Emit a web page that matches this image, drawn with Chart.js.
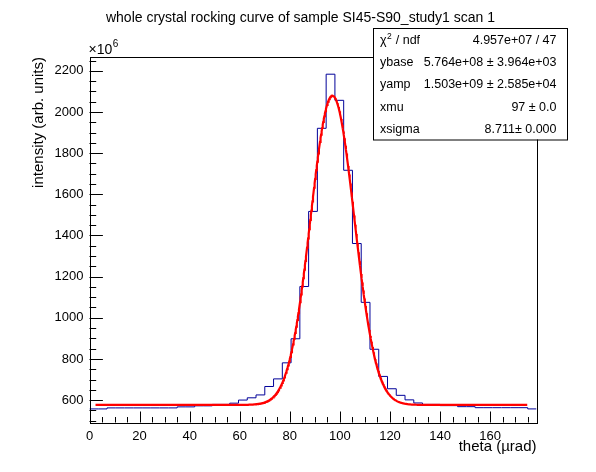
<!DOCTYPE html>
<html><head><meta charset="utf-8">
<script src="https://cdn.jsdelivr.net/npm/chart.js@4/dist/chart.umd.min.js"></script>
<style>html,body{margin:0;padding:0;background:#fff;overflow:hidden}canvas{display:block}</style>
</head><body>
<canvas id="c" width="596" height="472"></canvas>
<script>
// ---- data ----
const chartTitle = 'whole crystal rocking curve of sample SI45-S90_study1 scan 1';
const xTitle = 'theta (\u00b5rad)';
const yTitle = 'intensity (arb. units)';
const yExponent = '6';
// histogram bins (low edges, theta in urad) and contents (x 10^6)
const binLowEdges = [0,3.5,7,10.5,14,17.5,21,24.5,28,31.5,35,38.5,42,45.5,49,52.5,56,59.5,63,66.5,70,73.5,77,80.5,84,87.5,91,94.5,98,101.5,105,108.5,112,115.5,119,122.5,126,129.5,133,136.5,140,143.5,147,150.5,154,157.5,161,164.5,168,171.5,175];
const binUpperEdge = 178.5;
const counts = [557,557,562,562,562,562,562,562,562,562,567,567,572,572,579,579,585,600,611,625,666,703,781,898,1152,1517,1921,2184,2057,1717,1361,1075,847,715,655,623,601,586,579,579,573,573,568,568,563,563,563,563,563,563,557];
// fit parameters shown in the stat box (intensity in units of 10^6)
const fitParamNames = ['ybase','yamp','xmu','xsigma'];
const fitParamValues = [576.4, 1503, 97, 8.711];
const fitRange = [2.4, 174.8];
// stat box
const statLabels = ['chi2ndf','ybase','yamp','xmu','xsigma'];
const statValues = ['4.957e+07 / 47','5.764e+08 \u00b1 3.964e+03','1.503e+09 \u00b1 2.585e+04','97 \u00b1 0.0','8.711\u00b1 0.000'];
// axes
const xRange = [0, 178.5];
const yRange = [491, 2270];
const xTickValues = [0,20,40,60,80,100,120,140,160];
const yTickValues = [600,800,1000,1200,1400,1600,1800,2000,2200];
const xMajorStep = 20, xMinorStep = 5;
const yMajorStep = 200, yMinorStep = 50;

// ---- build datasets ----
const histPoints = binLowEdges.map((x, i) => ({x: x, y: counts[i]}));
histPoints.push({x: binUpperEdge, y: counts[counts.length - 1]});
const P = Object.fromEntries(fitParamNames.map((n, i) => [n, fitParamValues[i]]));
const fitPoints = [];
const NF = 800;
for (let k = 0; k <= NF; k++) {
  const x = fitRange[0] + (fitRange[1] - fitRange[0]) * k / NF;
  fitPoints.push({x: x, y: P.ybase + P.yamp * Math.exp(-0.5 * Math.pow((x - P.xmu) / P.xsigma, 2))});
}

const FONT = "'Liberation Sans', Arial, Helvetica, sans-serif";

const rootPlugin = {
  id: 'rootStyle',
  afterDraw(chart) {
    const ctx = chart.ctx;
    const a = chart.chartArea;
    const xs = chart.scales.x, ys = chart.scales.y;
    ctx.save();
    ctx.strokeStyle = '#000';
    ctx.lineWidth = 1;
    // frame
    ctx.strokeRect(Math.round(a.left) + 0.5, Math.round(a.top) + 0.5, Math.round(a.right) - Math.round(a.left), Math.round(a.bottom) - Math.round(a.top));
    ctx.beginPath();
    // y ticks (inward)
    const yStart = Math.ceil(yRange[0] / yMinorStep) * yMinorStep;
    for (let v = yStart; v <= yRange[1]; v += yMinorStep) {
      const py = Math.round(ys.getPixelForValue(v)) + 0.5;
      const len = (v % yMajorStep === 0) ? 13.4 : 6.7;
      ctx.moveTo(a.left, py); ctx.lineTo(a.left + len, py);
    }
    // x ticks (inward)
    for (let v = Math.ceil(xRange[0] / xMinorStep) * xMinorStep; v <= xRange[1]; v += xMinorStep) {
      const px = Math.round(xs.getPixelForValue(v)) + 0.5;
      const len = (v % xMajorStep === 0) ? 11 : 5.5;
      ctx.moveTo(px, a.bottom); ctx.lineTo(px, a.bottom - len);
    }
    ctx.stroke();

    ctx.fillStyle = '#000';
    ctx.textBaseline = 'alphabetic';
    // title
    ctx.font = '14px ' + FONT;
    ctx.textAlign = 'center';
    ctx.fillText(chartTitle, 300.5, 22);
    // x title
    ctx.font = '15px ' + FONT;
    ctx.textAlign = 'right';
    ctx.fillText(xTitle, a.right, 451);
    // y title
    ctx.save();
    ctx.translate(43, a.top + 0.5);
    ctx.rotate(-Math.PI / 2);
    ctx.textAlign = 'right';
    ctx.fillText(yTitle, 0, 0);
    ctx.restore();
    // x10^6
    ctx.textAlign = 'left';
    ctx.font = '14px ' + FONT;
    ctx.fillText('\u00d710', a.left - 1, 54);
    const w10 = ctx.measureText('\u00d710').width;
    ctx.font = '10px ' + FONT;
    ctx.fillText(yExponent, a.left - 1 + w10 + 0.5, 47);

    // stat box
    const bx = 373, by = 28, bw = 194, bh = 111.5;
    ctx.fillStyle = '#fff';
    ctx.fillRect(bx, by, bw, bh);
    ctx.strokeStyle = '#000';
    ctx.strokeRect(bx + 0.5, by + 0.5, bw, bh);
    ctx.fillStyle = '#000';
    const rowH = bh / statLabels.length;
    for (let i = 0; i < statLabels.length; i++) {
      const cy = by + rowH * (i + 0.5) + 4.5;
      ctx.font = '12.5px ' + FONT;
      ctx.textAlign = 'left';
      if (statLabels[i] === 'chi2ndf') {
        ctx.fillText('\u03c7', 380, cy);
        const wc = ctx.measureText('\u03c7').width;
        ctx.font = '8.5px ' + FONT;
        ctx.fillText('2', 380 + wc + 0.5, cy - 5);
        const w2 = ctx.measureText('2').width;
        ctx.font = '12.5px ' + FONT;
        ctx.fillText(' / ndf', 380 + wc + w2 + 1, cy);
      } else {
        ctx.fillText(statLabels[i], 380, cy);
      }
      ctx.textAlign = 'right';
      ctx.fillText(statValues[i], 556.5, cy);
    }
    ctx.restore();
  }
};

new Chart(document.getElementById('c'), {
  type: 'scatter',
  data: {
    datasets: [
      {
        label: 'fit',
        data: fitPoints,
        showLine: true,
        borderColor: '#ff0000',
        borderWidth: 2.2,
        pointRadius: 0,
        tension: 0
      },
      {
        label: 'histogram',
        data: histPoints,
        showLine: true,
        stepped: 'before',
        borderColor: '#000099',
        borderWidth: 1,
        pointRadius: 0
      }
    ]
  },
  options: {
    responsive: false,
    animation: false,
    devicePixelRatio: 1,
    layout: {padding: {top: 56.5, right: 59.5, left: 0, bottom: 0}},
    plugins: {legend: {display: false}, tooltip: {enabled: false}, title: {display: false}},
    scales: {
      x: {
        type: 'linear', min: xRange[0], max: xRange[1],
        grid: {display: false, drawTicks: false},
        border: {display: false},
        ticks: {autoSkip: false, maxRotation: 0, minRotation: 0,
                color: '#000', font: {family: FONT, size: 13}, padding: 6,
                callback: v => String(v)},
        afterBuildTicks: s => { s.ticks = xTickValues.map(v => ({value: v})); },
        afterFit: s => { s.height = 49.5; }
      },
      y: {
        type: 'linear', min: yRange[0], max: yRange[1],
        grid: {display: false, drawTicks: false},
        border: {display: false},
        ticks: {autoSkip: false,
                color: '#000', font: {family: FONT, size: 13}, padding: 6,
                callback: v => String(v)},
        afterBuildTicks: s => { s.ticks = yTickValues.map(v => ({value: v})); },
        afterFit: s => { s.width = 89.5; }
      }
    }
  },
  plugins: [rootPlugin]
});
</script>
</body></html>
